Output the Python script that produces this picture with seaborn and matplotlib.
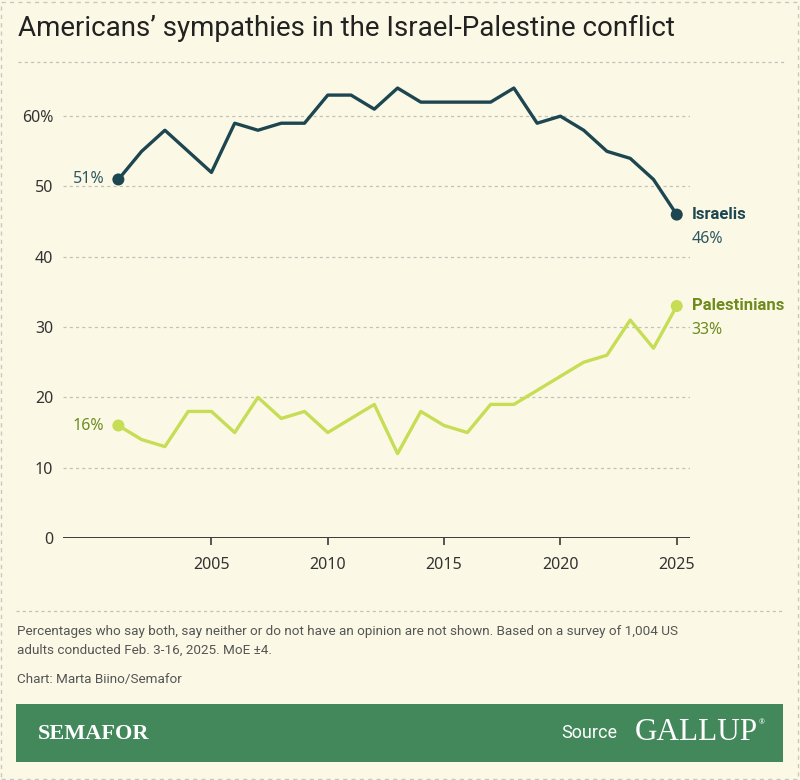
import pandas as pd
import numpy as np
import seaborn as sns
import matplotlib.pyplot as plt
from matplotlib.lines import Line2D
from matplotlib.patches import Rectangle

years = list(range(2001, 2026))
israelis = [51, 55, 58, 55, 52, 59, 58, 59, 59, 63, 63, 61, 64,
            62, 62, 62, 62, 64, 59, 60, 58, 55, 54, 51, 46]
palestinians = [16, 14, 13, 18, 18, 15, 20, 17, 18, 15, 17, 19, 12,
                18, 16, 15, 19, 19, 21, 23, 25, 26, 31, 27, 33]
series_names = ["Israelis", "Palestinians"]
y_ticks = [0, 10, 20, 30, 40, 50, 60]
y_tick_labels = ["0", "10", "20", "30", "40", "50", "60%"]
x_ticks = [2005, 2010, 2015, 2020, 2025]

title = "Americans\u2019 sympathies in the Israel-Palestine conflict"
note = ("Percentages who say both, say neither or do not have an opinion are not shown. "
        "Based on a survey of 1,004 US\nadults conducted Feb. 3-16, 2025. MoE \u00b14.")
credit = "Chart: Marta Biino/Semafor"

BG = "#FBF9E6"
ISR = "#1D4650"
ISR_TEXT = "#2E5661"
PAL = "#C6DD55"
PAL_TEXT = "#6E8B1E"
GRID = "#C2C2B8"
GREEN = "#42885A"
NARROW = ["Roboto", "DejaVu Sans"]
SANS = ["Noto Sans", "DejaVu Sans"]
SERIF = ["Liberation Serif", "DejaVu Serif"]

df = pd.DataFrame({
    "year": years * 2,
    "share": israelis + palestinians,
    "side": [series_names[0]] * len(years) + [series_names[1]] * len(years),
})

sns.set_theme(style="white")
plt.rcParams["font.family"] = SANS

fig = plt.figure(figsize=(8, 7.8), dpi=100, facecolor=BG)
ax = fig.add_axes([63 / 800, 1 - 538 / 780, 627 / 800, 464 / 780])
ax.set_facecolor(BG)

sns.lineplot(data=df, x="year", y="share", hue="side",
             palette={series_names[0]: ISR, series_names[1]: PAL},
             linewidth=2.4, legend=False, ax=ax)

# end-point dots
ends = df[df.year.isin([years[0], years[-1]])]
sns.scatterplot(data=ends, x="year", y="share", hue="side",
                palette={series_names[0]: ISR, series_names[1]: PAL},
                s=75, edgecolor="none", legend=False, ax=ax, zorder=5)

ax.set_xlim(1998.62, 2025.57)
ax.set_ylim(0, 66)
ax.set_yticks(y_ticks, y_tick_labels)
ax.set_xticks(x_ticks, [str(x) for x in x_ticks])
ax.set_xlabel("")
ax.set_ylabel("")
for s in ax.spines.values():
    s.set_visible(False)
for y in y_ticks[1:]:
    ax.axhline(y, color=GRID, lw=0.9, ls=(0, (2.5, 2.5)), zorder=0)
ax.axhline(0, color="#3A3A3A", lw=1.4, zorder=1)
ax.tick_params(axis="y", length=0, pad=7, labelsize=11.5, labelcolor="#333333")
ax.tick_params(axis="x", length=5, width=1.2, color="#3A3A3A", pad=9,
               labelsize=11.5, labelcolor="#333333", bottom=True)

# labels at the start and end of each line
ax.annotate(f"{israelis[0]}%", (years[0], israelis[0]), xytext=(-14, 0),
            textcoords="offset pixels", ha="right", va="center",
            color=ISR_TEXT, fontsize=11.5)
ax.annotate(f"{palestinians[0]}%", (years[0], palestinians[0]), xytext=(-14, 0),
            textcoords="offset pixels", ha="right", va="center",
            color=PAL_TEXT, fontsize=11.5)
ax.annotate(series_names[0], (years[-1], israelis[-1]), xytext=(15, 0),
            textcoords="offset pixels", ha="left", va="center",
            color=ISR, fontsize=12, fontweight="bold", family=NARROW,
            annotation_clip=False)
ax.annotate(f"{israelis[-1]}%", (years[-1], israelis[-1]), xytext=(15, -24),
            textcoords="offset pixels", ha="left", va="center",
            color=ISR_TEXT, fontsize=11.5, annotation_clip=False)
ax.annotate(series_names[1], (years[-1], palestinians[-1]), xytext=(15, 0),
            textcoords="offset pixels", ha="left", va="center",
            color=PAL_TEXT, fontsize=12, fontweight="bold", family=NARROW,
            annotation_clip=False)
ax.annotate(f"{palestinians[-1]}%", (years[-1], palestinians[-1]), xytext=(15, -24),
            textcoords="offset pixels", ha="left", va="center",
            color=PAL_TEXT, fontsize=11.5, annotation_clip=False)

# title, separators, notes
fig.text(18 / 800, 1 - 28 / 780, title, ha="left", va="center",
         fontsize=20, color="#222222", family=NARROW)
fig.add_artist(Line2D([18 / 800, 785 / 800], [1 - 62 / 780] * 2,
                      color=GRID, lw=0.9, ls=(0, (2.5, 2.5))))
fig.add_artist(Line2D([16 / 800, 783 / 800], [1 - 611 / 780] * 2,
                      color=GRID, lw=0.9, ls=(0, (2.5, 2.5))))
fig.text(17 / 800, 1 - 641 / 780, note, ha="left", va="center",
         fontsize=9.7, color="#555555", family=NARROW, linespacing=1.65)
fig.text(17 / 800, 1 - 680 / 780, credit, ha="left", va="center",
         fontsize=9.7, color="#555555", family=NARROW)

# outer dashed frame
fig.add_artist(Rectangle((1 / 800, 1 / 780), 797 / 800, 777 / 780,
                         transform=fig.transFigure, fill=False,
                         edgecolor="#C8C8BE", lw=1, ls=(0, (3, 3))))

# footer banner
fig.add_artist(Rectangle((16 / 800, 1 - 762 / 780), 767 / 800, 58 / 780,
                         transform=fig.transFigure, facecolor=GREEN,
                         edgecolor="none"))
fig.text(38 / 800, 1 - 734 / 780, "SEMAFOR", ha="left", va="center",
         fontsize=16, color="white", fontweight="bold", family=SERIF)
fig.text(561 / 800, 1 - 733 / 780, "Source", ha="left", va="center",
         fontsize=13, color="white", family=NARROW)
fig.text(635 / 800, 1 - 733 / 780, "GALLUP", ha="left", va="center",
         fontsize=22.5, color="white", family=SERIF)
fig.text(759 / 800, 1 - 723 / 780, "\u00ae", ha="left", va="center",
         fontsize=5, color="white")

fig.savefig("out.png", dpi=100, facecolor=BG)
